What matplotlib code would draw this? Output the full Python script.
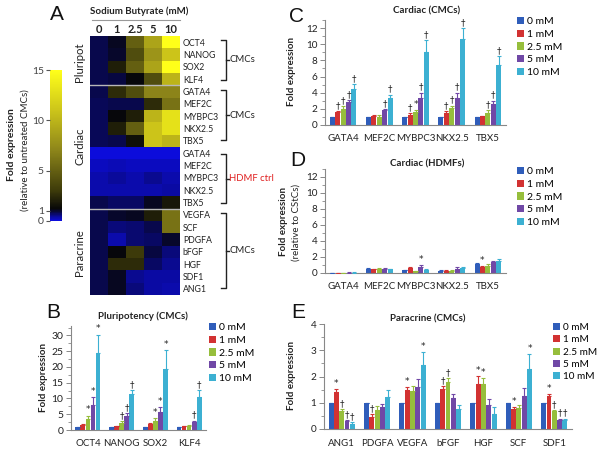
import numpy as np
import matplotlib
matplotlib.use("Agg")
import matplotlib.pyplot as plt
from matplotlib.colors import LinearSegmentedColormap, Normalize
from matplotlib.cm import ScalarMappable
from matplotlib.lines import Line2D
from matplotlib.patches import Patch

plt.rcParams['font.family'] = ['Lato', 'DejaVu Sans']

# ---------------- data ----------------
concentrations = ["0", "1", "2.5", "5", "10"]
legend_labels = ["0 mM", "1 mM", "2.5 mM", "5 mM", "10 mM"]
bar_colors = ["#2F5DBA", "#D23232", "#96BE3C", "#7048A6", "#3CB0D2"]

# Heatmap (fold expression, rows x concentrations)
pluri_genes = ["OCT4", "NANOG", "SOX2", "KLF4"]
cardiac_genes = ["GATA4", "MEF2C", "MYBPC3", "NKX2.5", "TBX5"]
paracrine_genes_heat = ["VEGFA", "SCF", "PDGFA", "bFGF", "HGF", "SDF1", "ANG1"]
heat_pluri = [[0.85, 1.1, 5, 9, 15],
              [0.85, 1.0, 4, 8, 11],
              [0.85, 2.0, 5, 9, 15],
              [0.85, 0.9, 1.2, 4, 10]]
heat_cardiac = [[0.85, 2.5, 4, 7, 7],
                [0.8, 0.85, 0.85, 2.5, 6],
                [0.8, 1.2, 2, 10, 13],
                [0.8, 2.0, 5, 11, 13],
                [0.8, 0.85, 1.5, 11, 10]]
heat_hdmf = [[0.05, 0.05, 0.05, 0.05, 0.05],
             [0.2, 0.25, 0.2, 0.2, 0.2],
             [0.3, 0.45, 0.3, 0.5, 0.3],
             [0.3, 0.3, 0.3, 0.35, 0.4],
             [0.85, 0.75, 0.75, 1.1, 1.8]]
heat_paracrine = [[0.85, 1.0, 1.1, 2, 6],
                  [0.85, 0.6, 0.7, 0.85, 6],
                  [0.85, 0.35, 0.7, 0.75, 1.05],
                  [0.85, 1.2, 3, 0.9, 0.6],
                  [0.85, 2.5, 2.5, 0.75, 0.5],
                  [0.85, 1.1, 0.5, 0.4, 0.4],
                  [0.85, 1.1, 0.6, 0.4, 0.35]]
cbar_ticks = [0, 1, 5, 10, 15]

# Panel B
b_cats = ["OCT4", "NANOG", "SOX2", "KLF4"]
b_vals = [[1, 1.6, 3.6, 8.0, 24.5],
          [1, 1.2, 2.3, 4.5, 11.3],
          [1, 1.8, 3.0, 5.7, 19.5],
          [1, 1.2, 1.4, 2.5, 10.5]]
b_err = [[0.1, 0.2, 1.0, 2.5, 5.8],
         [0.1, 0.1, 0.4, 0.8, 1.3],
         [0.1, 0.5, 0.9, 1.5, 5.9],
         [0.1, 0.1, 0.2, 0.5, 2.2]]
b_sig = [["", "", "*", "*", "*"],
         ["", "", "†", "†", "†"],
         ["", "", "*", "*", "*"],
         ["", "", "", "†", "†"]]

# Panel C
c_cats = ["GATA4", "MEF2C", "MYBPC3", "NKX2.5", "TBX5"]
c_vals = [[1, 1.6, 2.0, 2.8, 4.5],
          [1, 1.1, 1.05, 1.8, 3.3],
          [1, 1.3, 1.6, 3.4, 9.0],
          [1, 1.5, 2.1, 3.4, 10.6],
          [1, 1.1, 1.5, 2.6, 7.4]]
c_err = [[0.05, 0.15, 0.3, 0.25, 0.6],
         [0.05, 0.1, 0.2, 0.15, 0.45],
         [0.05, 0.2, 0.3, 0.6, 1.5],
         [0.05, 0.2, 0.3, 0.6, 1.4],
         [0.05, 0.05, 0.3, 0.4, 1.1]]
c_sig = [["", "†", "†", "†", "†"],
         ["", "", "", "†", "†"],
         ["", "†", "*", "†", "†"],
         ["", "†", "†", "†", "†"],
         ["", "", "†", "†", "†"]]

# Panel D
d_cats = ["GATA4", "MEF2C", "MYBPC3", "NKX2.5", "TBX5"]
d_vals = [[0.02, 0.02, 0.02, 0.05, 0.05],
          [0.55, 0.5, 0.55, 0.55, 0.5],
          [0.35, 0.6, 0.2, 0.75, 0.4],
          [0.3, 0.3, 0.3, 0.55, 0.65],
          [1.1, 0.8, 0.85, 1.35, 1.55]]
d_err = [[0.0, 0.0, 0.0, 0.02, 0.02],
         [0.08, 0.06, 0.08, 0.08, 0.06],
         [0.05, 0.15, 0.05, 0.2, 0.1],
         [0.05, 0.05, 0.05, 0.15, 0.15],
         [0.15, 0.1, 0.3, 0.1, 0.2]]
d_sig = [["", "", "", "", ""],
         ["", "", "", "", ""],
         ["", "", "", "*", ""],
         ["", "", "", "", ""],
         ["", "*", "", "", ""]]

# Panel E
e_cats = ["ANG1", "PDGFA", "VEGFA", "bFGF", "HGF", "SCF", "SDF1"]
e_vals = [[1, 1.4, 0.68, 0.3, 0.2],
          [1, 0.45, 0.72, 0.82, 1.22],
          [1, 1.48, 1.43, 1.6, 2.42],
          [1, 1.53, 1.78, 1.2, 0.78],
          [1, 1.73, 1.72, 0.93, 0.57],
          [1, 0.75, 0.8, 1.25, 2.3],
          [1, 1.27, 0.68, 0.35, 0.33]]
e_err = [[0, 0.12, 0.07, 0.03, 0.05],
         [0, 0.12, 0.15, 0.13, 0.27],
         [0, 0.13, 0.2, 0.3, 0.52],
         [0, 0.1, 0.15, 0.12, 0.15],
         [0, 0.28, 0.22, 0.22, 0.28],
         [0, 0.1, 0.1, 0.3, 0.55],
         [0, 0.08, 0.05, 0.05, 0.07]]
e_sig = [["", "*", "†", "†", "†"],
         ["", "†", "", "", ""],
         ["", "*", "", "", "*"],
         ["", "†", "†", "", ""],
         ["", "*", "*", "", ""],
         ["", "*", "", "", "*"],
         ["", "*", "†", "†", "†"]]

# ---------------- layout helpers ----------------
W, H = 600, 451
fig = plt.figure(figsize=(W / 100, H / 100), dpi=100)


def rect(x0, y0, x1, y1):
    return [x0 / W, 1 - y1 / H, (x1 - x0) / W, (y1 - y0) / H]


def fx(x):
    return x / W


def fy(y):
    return 1 - y / H


def ftext(x, y, s, **kw):
    fig.text(fx(x), fy(y), s, **kw)


def fline(xs, ys, **kw):
    fig.add_artist(Line2D([fx(v) for v in xs], [fy(v) for v in ys], **kw))


AXC = "#888888"
TXT = "#222222"


def bar_panel(r, cats, vals, errs, sigs, ymax, yticks, tickfs, title, title_xy,
              legend_xy, ylabel_lines, catpad=6.5, legfs=7.5):
    ax = fig.add_axes(rect(*r))
    n = len(cats)
    x = np.arange(n)
    w = 0.15
    vals = np.array(vals)
    errs = np.array(errs)
    handles = []
    for i in range(5):
        xo = x + (i - 2) * w
        ax.bar(xo, vals[:, i], width=w * 0.92, color=bar_colors[i], zorder=2)
        ax.errorbar(xo, vals[:, i], yerr=[np.zeros(n), errs[:, i]], fmt='none',
                    ecolor=bar_colors[i], elinewidth=0.8, capsize=1.4,
                    capthick=0.8, zorder=3)
        for j in range(n):
            s = sigs[j][i]
            if s:
                ax.text(xo[j], vals[j, i] + errs[j, i] + ymax * 0.01, s,
                        ha='center', va='bottom', fontsize=6.5, color=TXT,
                        family=['DejaVu Sans'])
        handles.append(Patch(facecolor=bar_colors[i], edgecolor='none'))
    ax.set_xlim(-0.5, n - 0.5)
    ax.set_ylim(0, ymax)
    ax.set_yticks(yticks)
    ax.set_yticklabels([str(t) for t in yticks], fontsize=tickfs, color=TXT)
    ax.yaxis.set_minor_locator(matplotlib.ticker.AutoMinorLocator(2))
    ax.set_xticks(x)
    ax.set_xticklabels(cats, fontsize=7, color=TXT)
    ax.tick_params(axis='x', length=0, pad=catpad)
    ax.tick_params(axis='y', which='major', length=3.5, width=0.7, color=AXC, pad=2)
    ax.tick_params(axis='y', which='minor', length=2, width=0.6, color=AXC)
    for sp in ['top', 'right']:
        ax.spines[sp].set_visible(False)
    for sp in ['left', 'bottom']:
        ax.spines[sp].set_color(AXC)
        ax.spines[sp].set_linewidth(0.8)
    ax.patch.set_alpha(0)
    ftext(title_xy[0], title_xy[1], title, ha='center', va='center',
          fontsize=7, fontweight='bold', color=TXT)
    fig.legend(handles, legend_labels, loc='upper left',
               bbox_to_anchor=(fx(legend_xy[0]), fy(legend_xy[1])),
               frameon=False, fontsize=legfs, handlelength=0.7, handleheight=0.7,
               handletextpad=0.3, labelspacing=0.33, borderpad=0, borderaxespad=0)
    for (lx, ly, s, bold) in ylabel_lines:
        ftext(lx, ly, s, rotation=90, ha='center', va='center', fontsize=7,
              fontweight='bold' if bold else 'normal', color=TXT)
    return ax


# ---------------- Panel A: heatmap ----------------
cmap = LinearSegmentedColormap.from_list("sb", [
    (0.0, (0.05, 0.05, 0.86)),
    (0.5 / 15, (0.04, 0.04, 0.55)),
    (0.9 / 15, (0.03, 0.03, 0.24)),
    (1.2 / 15, (0.03, 0.03, 0.03)),
    (3.0 / 15, (0.24, 0.23, 0.04)),
    (7.0 / 15, (0.55, 0.52, 0.1)),
    (11.0 / 15, (0.8, 0.77, 0.1)),
    (1.0, (1.0, 1.0, 0.1)),
])
norm = Normalize(0, 15)

heat_rows = pluri_genes + cardiac_genes + cardiac_genes + paracrine_genes_heat
heat = np.array(heat_pluri + heat_cardiac + heat_hdmf + heat_paracrine)

axh = fig.add_axes(rect(90, 36, 180, 295))
axh.imshow(heat, cmap=cmap, norm=norm, aspect='auto', interpolation='nearest')
axh.set_xticks(np.arange(5))
axh.set_xticklabels(concentrations, fontsize=8, fontweight='bold', color=TXT)
axh.xaxis.tick_top()
axh.set_yticks(np.arange(len(heat_rows)))
axh.set_yticklabels(heat_rows, fontsize=6.3, color=TXT)
axh.yaxis.tick_right()
axh.tick_params(length=0, pad=2)
axh.tick_params(axis='x', pad=0.5)
for sp in axh.spines.values():
    sp.set_visible(False)
axh.axhline(3.5, color='#b8b8b8', lw=1.0)
axh.axhline(13.5, color='#b8b8b8', lw=1.0)

ftext(139, 11, "Sodium Butyrate (mM)", ha='center', va='center', fontsize=7,
      fontweight='bold', color=TXT)
fline([92, 180], [19.5, 19.5], color='#999999', lw=0.8)

ftext(80, 62, "Pluripot", rotation=90, ha='center', va='center', fontsize=8.2, color=TXT)
ftext(80, 146, "Cardiac", rotation=90, ha='center', va='center', fontsize=8.2, color=TXT)
ftext(80, 253, "Paracrine", rotation=90, ha='center', va='center', fontsize=8.2, color=TXT)


def bracket(y0, y1, label, color=TXT):
    xb = 226
    fline([221, xb, xb, 221], [y0, y0, y1, y1], color='#222222', lw=1.0)
    ym = (y0 + y1) / 2
    fline([xb, xb + 2.5], [ym, ym], color='#222222', lw=1.0)
    ftext(xb + 3, ym, label, ha='left', va='center', fontsize=6.8, color=color)


bracket(40, 80, "CMCs")
bracket(90, 140, "CMCs")
bracket(154, 203, "HDMF ctrl", color='#E02020')
bracket(213, 288, "CMCs")

cax = fig.add_axes(rect(50, 70, 62, 221))
sm = ScalarMappable(norm=norm, cmap=cmap)
cb = fig.colorbar(sm, cax=cax)
cb.outline.set_visible(False)
cb.set_ticks(cbar_ticks)
cb.set_ticklabels([str(t) for t in cbar_ticks])
cax.yaxis.set_ticks_position('left')
cax.tick_params(length=3, width=0.8, color='#555555', labelsize=7.5,
                labelcolor='#444444', pad=1.5)
ftext(12, 145, "Fold expression", rotation=90, ha='center', va='center',
      fontsize=7.5, fontweight='bold', color=TXT)
ftext(25, 150, "(relative to untreated CMCs)", rotation=90, ha='center',
      va='center', fontsize=7, color=TXT)

# ---------------- Panel letters ----------------
for (lx, ly, s) in [(57, 15, "A"), (53, 313, "B"), (297, 16, "C"), (298, 161, "D"),
                    (298, 313, "E")]:
    ftext(lx, ly, s, ha='center', va='center', fontsize=15,
          family=['Liberation Sans'], color='#111111')

# ---------------- Bar panels ----------------
bar_panel((71, 326, 206, 430), b_cats, b_vals, b_err, b_sig, 33,
          [0, 5, 10, 15, 20, 25, 30], 7.5, "Pluripotency (CMCs)", (143, 316),
          (209, 323), [(43, 378, "Fold expression", True)])

bar_panel((325, 20, 506, 125), c_cats, c_vals, c_err, c_sig, 13,
          [0, 2, 4, 6, 8, 10, 12], 7.2, "Cardiac (CMCs)", (427, 11),
          (517, 17), [(292, 72, "Fold expression", True)])

bar_panel((325, 169, 506, 273), d_cats, d_vals, d_err, d_sig, 13,
          [0, 2, 4, 6, 8, 10, 12], 7.2, "Cardiac (HDMFs)", (427, 164),
          (517, 167), [(283, 222, "Fold expression", True),
                       (296, 222, "(relative to CStCs)", False)])

bar_panel((324, 324, 572, 429), e_cats, e_vals, e_err, e_sig, 4,
          [0, 1, 2, 3, 4], 7.2, "Paracrine (CMCs)", (428, 319),
          (553, 323), [(292, 376, "Fold expression", True)], catpad=7, legfs=7.2)

fig.savefig("out.png", dpi=100)
